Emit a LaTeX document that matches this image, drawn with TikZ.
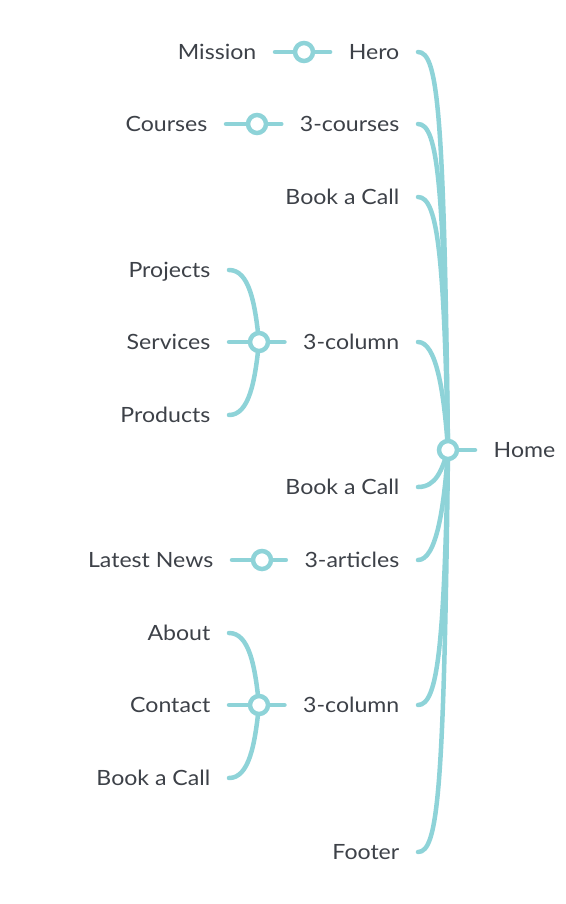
\documentclass[tikz,border=0pt]{standalone}
\usepackage{fontspec}
\setmainfont[FakeStretch=1.1]{Lato}
\usetikzlibrary{calc}
\definecolor{link}{RGB}{142,211,216}
\definecolor{ink}{RGB}{61,65,72}
\begin{document}
\begin{tikzpicture}[x=1pt,y=-1pt,
  lbl/.style={font=\fontsize{21}{25}\selectfont, text=ink, inner xsep=18.5pt, inner ysep=0pt, text height=15pt, text depth=0pt},
  lnk/.style={draw=link, line width=4.5pt, line cap=round},
  hub/.style={circle, draw=link, fill=white, line width=4.5pt, minimum size=18pt, inner sep=0pt}]
\useasboundingbox (0,0) rectangle (565,904);

% level 1 labels
\node[lbl, anchor=east] (hero) at (418,52) {Hero};
\node[lbl, anchor=east] (courses3) at (418,124) {3-courses};
\node[lbl, anchor=east] (call1) at (418,197) {Book a Call};
\node[lbl, anchor=east] (col1) at (418,342) {3-column};
\node[lbl, anchor=east] (call2) at (418,487) {Book a Call};
\node[lbl, anchor=east] (articles) at (418,560) {3-articles};
\node[lbl, anchor=east] (col2) at (418,705) {3-column};
\node[lbl, anchor=east] (footer) at (418,852) {Footer};
\node[lbl, anchor=west] (hometext) at (475,450) {Home};

% level 2 labels
\node[lbl, anchor=east] (mission) at (275,52) {Mission};
\node[lbl, anchor=east] (courses) at (226,124) {Courses};
\node[lbl, anchor=east] (projects) at (229,270) {Projects};
\node[lbl, anchor=east] (services) at (229,342) {Services};
\node[lbl, anchor=east] (products) at (229,415) {Products};
\node[lbl, anchor=east] (news) at (232,560) {Latest News};
\node[lbl, anchor=east] (about) at (229,633) {About};
\node[lbl, anchor=east] (contact) at (229,705) {Contact};
\node[lbl, anchor=east] (call3) at (229,778) {Book a Call};

% hub positions
\coordinate (home) at (448,450);
\coordinate (h1) at (304,52);
\coordinate (h2) at (257,124);
\coordinate (h3) at (259,342);
\coordinate (h4) at (262,560);
\coordinate (h5) at (259,705);

% level 1 curves
\draw[lnk] (hero.east) .. controls ($(hero.east)+(20,0)$) and ($(hero.east)+(26,60)$) .. (home);
\draw[lnk] (courses3.east) .. controls ($(courses3.east)+(20,0)$) and ($(courses3.east)+(26,60)$) .. (home);
\draw[lnk] (call1.east) .. controls ($(call1.east)+(20,0)$) and ($(call1.east)+(26,60)$) .. (home);
\draw[lnk] (col1.east) .. controls ($(col1.east)+(18,0)$) and ($(col1.east)+(26,48)$) .. (home);
\draw[lnk] (call2.east) .. controls ($(call2.east)+(18,0)$) and ($(call2.east)+(24,-17)$) .. (home);
\draw[lnk] (articles.east) .. controls ($(articles.east)+(18,0)$) and ($(articles.east)+(26,-50)$) .. (home);
\draw[lnk] (col2.east) .. controls ($(col2.east)+(20,0)$) and ($(col2.east)+(26,-60)$) .. (home);
\draw[lnk] (footer.east) .. controls ($(footer.east)+(20,0)$) and ($(footer.east)+(26,-60)$) .. (home);
\draw[lnk] (home) -- (hometext.west);

% level 2 connectors
\draw[lnk] (mission.east) -- (h1) -- (hero.west);
\draw[lnk] (courses.east) -- (h2) -- (courses3.west);
\draw[lnk] (services.east) -- (h3) -- (col1.west);
\draw[lnk] (projects.east) .. controls ($(projects.east)+(20,0)$) and ($(h3)+(-4,-40)$) .. (h3);
\draw[lnk] (products.east) .. controls ($(products.east)+(20,0)$) and ($(h3)+(-4,40)$) .. (h3);
\draw[lnk] (news.east) -- (h4) -- (articles.west);
\draw[lnk] (contact.east) -- (h5) -- (col2.west);
\draw[lnk] (about.east) .. controls ($(about.east)+(20,0)$) and ($(h5)+(-4,-40)$) .. (h5);
\draw[lnk] (call3.east) .. controls ($(call3.east)+(20,0)$) and ($(h5)+(-4,40)$) .. (h5);

% hub circles
\node[hub] (homehub) at (home) {};
\node[hub] (hub1) at (h1) {};
\node[hub] (hub2) at (h2) {};
\node[hub] (hub3) at (h3) {};
\node[hub] (hub4) at (h4) {};
\node[hub] (hub5) at (h5) {};
\end{tikzpicture}
\end{document}
